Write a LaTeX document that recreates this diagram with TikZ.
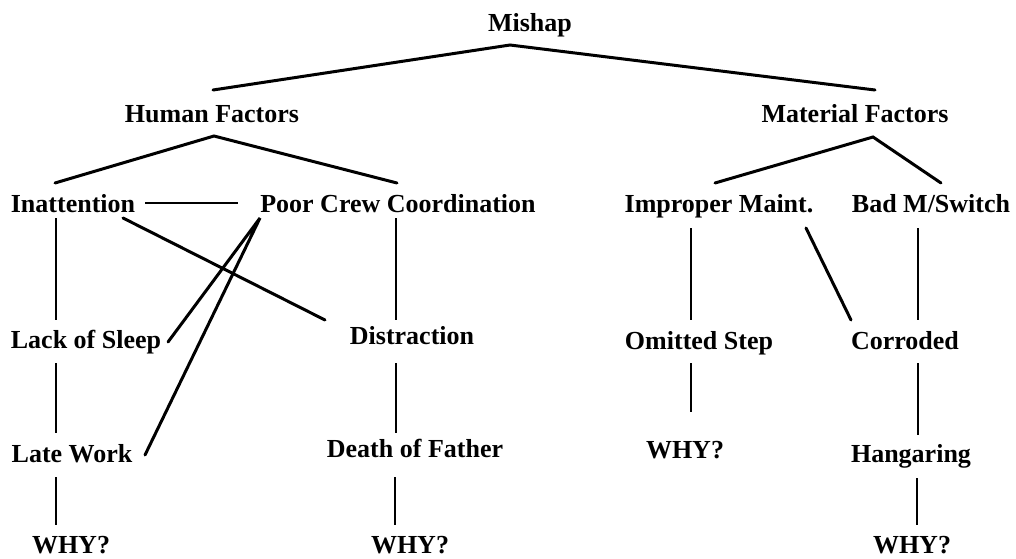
\documentclass[tikz,border=0pt]{standalone}
\usepackage{fontspec}
\setmainfont{Liberation Serif}
\begin{document}
\begin{tikzpicture}[x=1pt,y=-1pt,
  lbl/.style={anchor=base,inner sep=0pt,font=\fontsize{26}{30}\selectfont\bfseries},
  ln/.style={line width=3pt,line cap=round},
  vl/.style={line width=2.2pt}]
\useasboundingbox (0,0) rectangle (1016,558);
\node[lbl] (mishap) at (530,31) {Mishap};
\node[lbl] (hf) at (212,122) {Human Factors};
\node[lbl] (mf) at (855,122) {Material Factors};
\node[lbl] (in) at (73,212) {Inattention};
\node[lbl] (pcc) at (398,212) {Poor Crew Coordination};
\node[lbl] (im) at (719,212) {Improper Maint.};
\node[lbl] (bms) at (931,212) {Bad M/Switch};
\node[lbl] (ls) at (86,348) {Lack of Sleep};
\node[lbl] (dis) at (412,344) {Distraction};
\node[lbl] (lw) at (72,462) {Late Work};
\node[lbl] (dof) at (415,457) {Death of Father};
\node[lbl] (why1) at (71,553) {WHY?};
\node[lbl] (why2) at (410,553) {WHY?};
\node[lbl] (os) at (699,349) {Omitted Step};
\node[lbl] (cor) at (905,349) {Corroded};
\node[lbl] (why3) at (685,458) {WHY?};
\node[lbl] (hang) at (911,462) {Hangaring};
\node[lbl] (why4) at (912,553) {WHY?};
% top level
\draw[ln] ([shift={(1,-32)}]hf.base) -- ([shift={(-20,14)}]mishap.base) -- ([shift={(20,-32)}]mf.base);
% human factors
\draw[ln] ([shift={(-157,61)}]hf.base) -- ([shift={(2,14)}]hf.base) -- ([shift={(185,61)}]hf.base);
% material factors
\draw[ln] ([shift={(-140,61)}]mf.base) -- ([shift={(18,15)}]mf.base) -- ([shift={(86,61)}]mf.base);
% inattention -- poor crew
\draw[vl] ([shift={(72,-9)}]in.base) -- ([shift={(-160,-9)}]pcc.base);
% inattention chain
\draw[vl] ([shift={(-17,6)}]in.base) -- ([shift={(-30,-28)}]ls.base);
\draw[vl] ([shift={(-30,15)}]ls.base) -- ([shift={(-16,-29)}]lw.base);
\draw[vl] ([shift={(-16,15)}]lw.base) -- ([shift={(-15,-28)}]why1.base);
% inattention to distraction
\draw[ln] ([shift={(50,6)}]in.base) -- ([shift={(-87,-24)}]dis.base);
% poor crew to lack of sleep / late work
\draw[ln] ([shift={(82,-6)}]ls.base) -- ([shift={(-138,6)}]pcc.base) -- ([shift={(73,-7)}]lw.base);
% poor crew chain
\draw[vl] ([shift={(-2,6)}]pcc.base) -- ([shift={(-16,-24)}]dis.base);
\draw[vl] ([shift={(-16,19)}]dis.base) -- ([shift={(-19,-24)}]dof.base);
\draw[vl] ([shift={(-20,20)}]dof.base) -- ([shift={(-15,-28)}]why2.base);
% improper maint
\draw[vl] ([shift={(-28,16)}]im.base) -- ([shift={(-8,-29)}]os.base);
\draw[vl] ([shift={(-8,14)}]os.base) -- ([shift={(6,-46)}]why3.base);
\draw[ln] ([shift={(87,16)}]im.base) -- ([shift={(-54,-29)}]cor.base);
% bad m/switch
\draw[vl] ([shift={(-13,16)}]bms.base) -- ([shift={(13,-29)}]cor.base);
\draw[vl] ([shift={(13,14)}]cor.base) -- ([shift={(7,-27)}]hang.base);
\draw[vl] ([shift={(6,16)}]hang.base) -- ([shift={(5,-28)}]why4.base);
\end{tikzpicture}
\end{document}
